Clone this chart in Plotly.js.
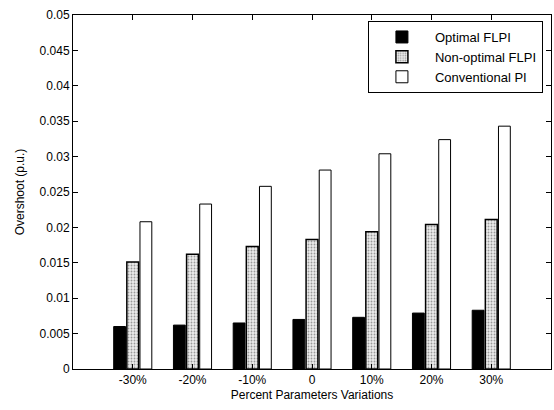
<!DOCTYPE html>
<html><head><meta charset="utf-8">
<script src="https://cdn.plot.ly/plotly-3.0.1.min.js"></script>
<style>html,body{margin:0;padding:0;background:#fff}#c{width:554px;height:410px}</style>
</head><body><div id="c"></div>
<script>
const categories = ['-30%', '-20%', '-10%', '0', '10%', '20%', '30%'];
const optimalFLPI = [0.0060, 0.0062, 0.0065, 0.0070, 0.0073, 0.0079, 0.0083];
const nonOptimalFLPI = [0.0151, 0.0162, 0.0173, 0.0183, 0.0194, 0.0204, 0.0211];
const conventionalPI = [0.0208, 0.0233, 0.0258, 0.0281, 0.0304, 0.0324, 0.0343];
const yTicks = [0, 0.005, 0.01, 0.015, 0.02, 0.025, 0.03, 0.035, 0.04, 0.045, 0.05];

const font = {family: 'Liberation Sans, Arial, sans-serif', size: 12, color: '#000'};
const traces = [
  {type: 'bar', name: 'Optimal FLPI', x: categories, y: optimalFLPI,
   marker: {color: '#000', line: {color: '#000', width: 1}}},
  {type: 'bar', name: 'Non-optimal FLPI', x: categories, y: nonOptimalFLPI,
   marker: {color: '#e0e0e0', line: {color: '#000', width: 1.5},
            pattern: {shape: '.', fgcolor: '#9a9a9a', bgcolor: '#ececec', size: 3, solidity: 0.3}}},
  {type: 'bar', name: 'Conventional PI', x: categories, y: conventionalPI,
   marker: {color: '#fff', line: {color: '#000', width: 1}}}
];
const layout = {
  width: 554, height: 410,
  margin: {l: 73, r: 3, t: 15, b: 41},
  paper_bgcolor: '#fff', plot_bgcolor: '#fff',
  font: font,
  barmode: 'group', bargap: 0.34, bargroupgap: 0.1,
  showlegend: true,
  legend: {x: 0.617, y: 0.983, xanchor: 'left', yanchor: 'top',
           bordercolor: '#000', borderwidth: 1, bgcolor: '#fff', itemwidth: 56,
           font: {family: font.family, size: 13, color: '#000'}, tracegroupgap: 0},
  xaxis: {type: 'category', range: [-1, 7], showline: true, mirror: 'ticks', linecolor: '#000', linewidth: 1,
          ticks: 'inside', ticklen: 5, tickcolor: '#000', showgrid: false, zeroline: false,
          tickfont: font,
          title: {text: 'Percent Parameters Variations', font: font, standoff: 4}},
  yaxis: {range: [0, 0.05], tickvals: yTicks, ticktext: yTicks.map(String),
          showline: true, mirror: 'ticks', linecolor: '#000', linewidth: 1,
          ticks: 'inside', ticklen: 5, tickcolor: '#000', showgrid: false, zeroline: false,
          tickfont: font,
          title: {text: 'Overshoot (p.u.)', font: font, standoff: 12}}
};
Plotly.newPlot('c', traces, layout, {displayModeBar: false, staticPlot: true});
</script></body></html>
